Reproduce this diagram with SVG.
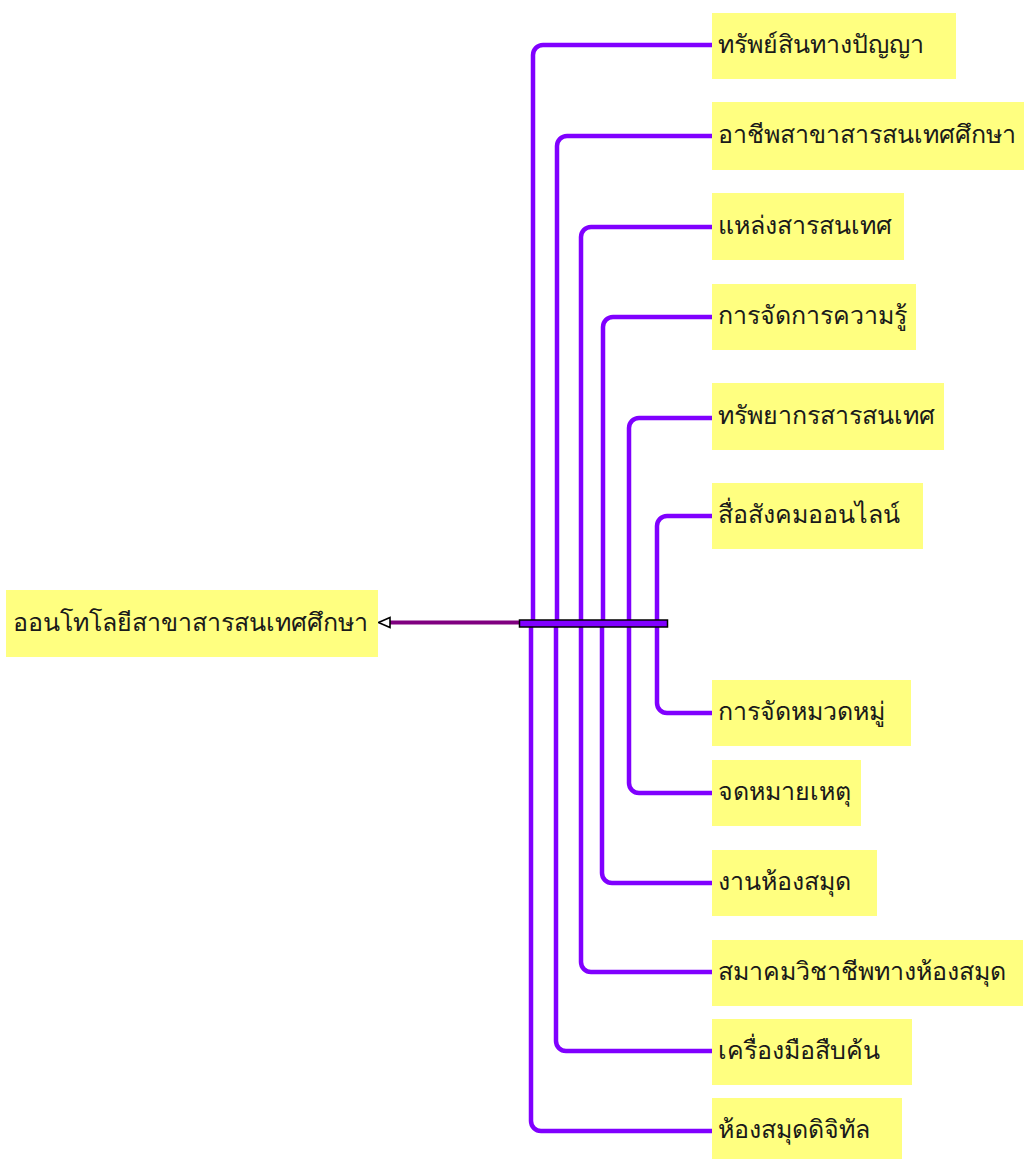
<svg xmlns="http://www.w3.org/2000/svg" width="1024" height="1159" viewBox="0 0 1024 1159">
  <style>
    .box { fill: #ffff80; }
    .lbl { font-family: "Noto Sans", "DejaVu Sans", sans-serif; font-size: 25px; fill: #1a1a1a; }
    .link { fill: none; stroke: #8000ff; stroke-width: 4.5; stroke-linejoin: round; }
  </style>
  <rect width="1024" height="1159" fill="#ffffff"/>

  <!-- connectors -->
  <g id="connectors">
    <path class="link" d="M533,620 V55 A10,10 0 0 1 543,45 H712"/>
    <path class="link" d="M557,620 V146 A10,10 0 0 1 567,136 H712"/>
    <path class="link" d="M581,620 V237 A10,10 0 0 1 591,227 H712"/>
    <path class="link" d="M603,620 V327 A10,10 0 0 1 613,317 H712"/>
    <path class="link" d="M629,620 V428 A10,10 0 0 1 639,418 H712"/>
    <path class="link" d="M657,620 V526 A10,10 0 0 1 667,516 H712"/>
    <path class="link" d="M657,627 V703 A10,10 0 0 0 667,713 H712"/>
    <path class="link" d="M629,627 V783 A10,10 0 0 0 639,793 H712"/>
    <path class="link" d="M602,627 V873 A10,10 0 0 0 612,883 H712"/>
    <path class="link" d="M581,627 V962 A10,10 0 0 0 591,972 H712"/>
    <path class="link" d="M556,627 V1041 A10,10 0 0 0 566,1051 H712"/>
    <path class="link" d="M531,627 V1121 A10,10 0 0 0 541,1131 H712"/>
    <!-- link from the junction bar to the root, with an open arrowhead -->
    <line x1="520" y1="622.5" x2="389" y2="622.5" stroke="#800080" stroke-width="4"/>
    <path d="M378.5,622.5 L390,617.5 L390,627.5 Z" fill="#ffffff" stroke="#000000" stroke-width="1.6" stroke-linejoin="miter"/>
    <rect x="519.5" y="620" width="148" height="7" fill="#8000ff" stroke="#000000" stroke-width="1.5"/>
  </g>

  <!-- root -->
  <g id="node-root">
    <rect class="box" x="6" y="590" width="372" height="67"/>
    <text class="lbl" x="13" y="631">ออนโทโลยีสาขาสารสนเทศศึกษา</text>
  </g>

  <!-- upper branches -->
  <g id="node-1">
    <rect class="box" x="712" y="13" width="244" height="66"/>
    <text class="lbl" x="718" y="53">ทรัพย์สินทางปัญญา</text>
  </g>
  <g id="node-2">
    <rect class="box" x="712" y="102" width="312" height="68"/>
    <text class="lbl" x="718" y="143">อาชีพสาขาสารสนเทศศึกษา</text>
  </g>
  <g id="node-3">
    <rect class="box" x="712" y="193" width="192" height="67"/>
    <text class="lbl" x="718" y="234">แหล่งสารสนเทศ</text>
  </g>
  <g id="node-4">
    <rect class="box" x="712" y="284" width="204" height="66"/>
    <text class="lbl" x="718" y="324">การจัดการความรู้</text>
  </g>
  <g id="node-5">
    <rect class="box" x="712" y="383" width="232" height="67"/>
    <text class="lbl" x="718" y="424">ทรัพยากรสารสนเทศ</text>
  </g>
  <g id="node-6">
    <rect class="box" x="712" y="483" width="211" height="66"/>
    <text class="lbl" x="718" y="523">สื่อสังคมออนไลน์</text>
  </g>

  <!-- lower branches -->
  <g id="node-7">
    <rect class="box" x="712" y="680" width="199" height="66"/>
    <text class="lbl" x="718" y="720">การจัดหมวดหมู่</text>
  </g>
  <g id="node-8">
    <rect class="box" x="712" y="760" width="149" height="66"/>
    <text class="lbl" x="718" y="800">จดหมายเหตุ</text>
  </g>
  <g id="node-9">
    <rect class="box" x="712" y="850" width="165" height="66"/>
    <text class="lbl" x="718" y="890">งานห้องสมุด</text>
  </g>
  <g id="node-10">
    <rect class="box" x="712" y="940" width="311" height="66"/>
    <text class="lbl" x="718" y="980">สมาคมวิชาชีพทางห้องสมุด</text>
  </g>
  <g id="node-11">
    <rect class="box" x="712" y="1019" width="200" height="66"/>
    <text class="lbl" x="718" y="1059">เครื่องมือสืบค้น</text>
  </g>
  <g id="node-12">
    <rect class="box" x="712" y="1098" width="190" height="61"/>
    <text class="lbl" x="718" y="1138">ห้องสมุดดิจิทัล</text>
  </g>
</svg>
